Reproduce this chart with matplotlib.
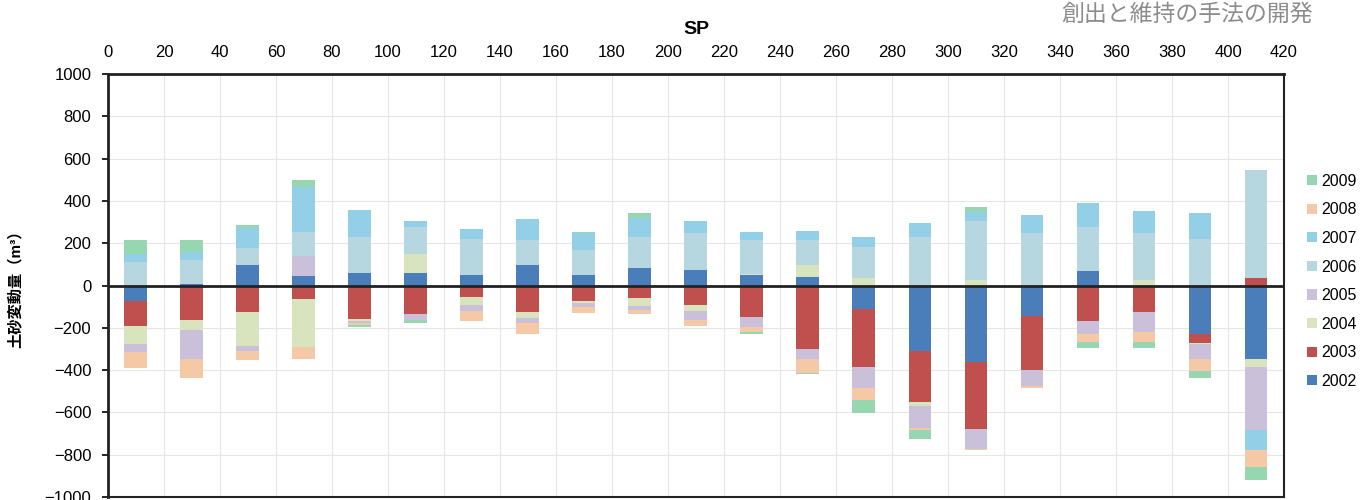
import numpy as np
import matplotlib.pyplot as plt

plt.rcParams['font.family'] = ['Liberation Sans', 'Noto Sans CJK JP', 'DejaVu Sans']

sp = [10, 30, 50, 70, 90, 110, 130, 150, 170, 190, 210,
      230, 250, 270, 290, 310, 330, 350, 370, 390, 410]

years = ['2002', '2003', '2004', '2005', '2006', '2007', '2008', '2009']

v2002 = [-75, 5, 95, 43, 60, 59, 52, 95, 49, 84, 75,
         48, 40, -111, -309, -362, -146, 67, 0, -227, -349]
v2003 = [-115, -163, -127, -63, -159, -135, -56, -124, -75, -59, -90,
         -151, -302, -275, -242, -317, -255, -167, -127, -46, 35]
v2004 = [-85, -48, -159, -227, -10, 92, -36, -30, -8, -38, -29,
         8, 55, 35, -20, 24, 0, 0, 24, -5, -37]
v2005 = [-39, -136, -25, 95, -8, -28, -27, -21, -17, -19, -43,
         -47, -47, -98, -103, -94, -72, -63, -95, -71, -296]
v2006 = [111, 114, 80, 116, 170, 125, 170, 119, 118, 143, 171,
         158, 122, 147, 227, 281, 246, 211, 222, 222, 512]
v2007 = [40, 40, 95, 214, 127, 30, 43, 99, 82, 90, 60,
         37, 40, 45, 70, 44, 87, 111, 106, 122, -95]
v2008 = [-78, -91, -41, -56, -10, 0, -48, -55, -32, -19, -28,
         -24, -64, -56, -8, -7, -11, -35, -43, -56, -80]
v2009 = [63, 55, 16, 30, -8, -16, 0, 0, 5, 27, 0,
         -5, -7, -63, -43, 21, 0, -32, -32, -31, -63]

series = [v2002, v2003, v2004, v2005, v2006, v2007, v2008, v2009]
colors = ['#4a7ebb', '#c0504d', '#d7e4bd', '#cbc0da',
          '#b6d6e0', '#93cfe6', '#f6c9a6', '#96d6b0']

fig = plt.figure(figsize=(13.68, 5.0), dpi=100)
ax = fig.add_axes([0.0789, 0.006, 0.8597, 0.846])

pos_bottom = np.zeros(len(sp))
neg_bottom = np.zeros(len(sp))
handles = []
for name, vals, c in zip(years, series, colors):
    vals = np.array(vals, dtype=float)
    bottom = np.where(vals >= 0, pos_bottom, neg_bottom)
    b = ax.bar(sp, vals, width=8.2, bottom=bottom, color=c, label=name,
               zorder=3, linewidth=0)
    handles.append(b)
    pos_bottom += np.where(vals >= 0, vals, 0)
    neg_bottom += np.where(vals < 0, vals, 0)

ax.axhline(0, color='#222222', lw=2, zorder=4)

ax.set_xlim(0, 420)
ax.set_ylim(-1000, 1000)
ax.set_xticks(range(0, 421, 20))
ax.set_yticks(range(-1000, 1001, 200))
ax.xaxis.tick_top()
ax.xaxis.set_label_position('top')
ax.tick_params(axis='x', length=0, labelsize=12, pad=10)
ax.tick_params(axis='y', length=4, width=1.2, labelsize=12, pad=8)
ax.grid(True, color='#e6e6e6', lw=0.8, zorder=0)
for s in ax.spines.values():
    s.set_color('#222222')
    s.set_linewidth(1.5)
ax.spines['left'].set_linewidth(2)
ax.spines['top'].set_linewidth(2)

ax.set_xlabel('SP', fontsize=14, fontweight='bold', labelpad=8)
ax.set_ylabel('土砂変動量（m³）', fontsize=11, fontweight='bold', labelpad=16)

fig.text(0.868, 0.972, '創出と維持の手法の開発', fontsize=16.5, color='#8c8c8c',
         ha='center', va='center')

fig.legend(handles[::-1], years[::-1], loc='upper left',
           bbox_to_anchor=(0.951, 0.665), frameon=False, fontsize=11.5,
           handlelength=0.6, handleheight=0.6, handletextpad=0.3,
           labelspacing=0.85, borderaxespad=0)

fig.savefig('out.png', dpi=100)
